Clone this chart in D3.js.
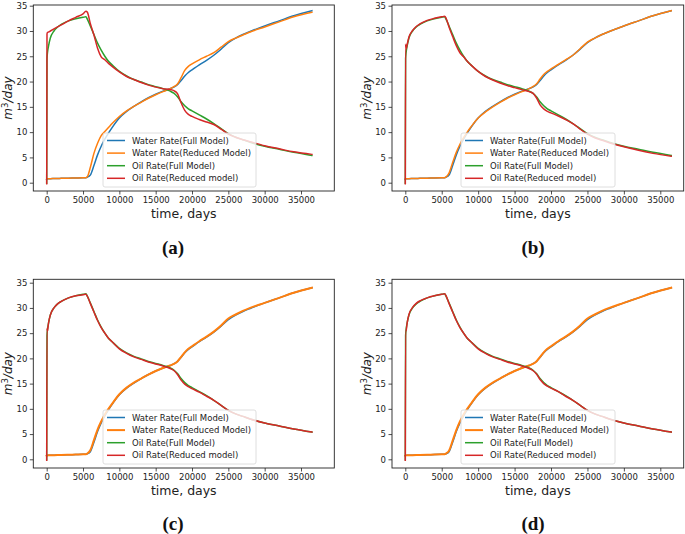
<!DOCTYPE html>
<html><head><meta charset="utf-8">
<script src="https://cdn.jsdelivr.net/npm/d3@7"></script>
<style>body{margin:0;background:#fff}svg{display:block}</style>
</head><body>
<svg id="c" width="685" height="534"></svg>
<script>
// ---------------- data ----------------
const days = [0,40,100,250,500,1000,1500,2000,3000,4000,5000,5400,5600,6000,6500,7000,7500,8000,8500,9000,10000,11000,12000,13000,14000,15000,16000,17000,17500,18000,18500,19000,19500,20000,21000,22000,23000,24000,25000,26000,27000,28000,30000,32000,34000,36500];
const waterFull = [0.7,0.75,0.78,0.8,0.8,0.82,0.84,0.86,0.9,0.94,0.98,1.0,1.1,1.5,3.4,5.5,7.2,8.6,9.8,10.9,12.8,14.1,15.1,16.0,16.8,17.5,18.1,18.6,18.9,19.4,20.2,21.1,21.8,22.3,23.3,24.2,25.2,26.4,27.7,28.6,29.3,29.9,31.0,32.0,33.0,34.0];
const oilFull = [-0.1,24.5,25.6,27.0,28.6,30.0,30.8,31.3,32.0,32.4,32.7,32.8,32.3,31.0,29.3,27.6,26.2,25.0,24.0,23.3,22.0,21.1,20.4,19.9,19.4,19.0,18.6,18.1,17.7,17.0,16.0,15.2,14.6,14.2,13.4,12.6,11.7,10.7,9.7,9.0,8.5,8.0,7.2,6.6,6.0,5.4];
const waterReducedA = [0.7,0.75,0.78,0.8,0.8,0.82,0.84,0.86,0.9,0.94,0.98,1.0,1.2,3.0,5.8,7.8,9.3,10.1,10.9,11.7,13.1,14.2,15.1,15.9,16.7,17.4,18.0,18.6,19.0,19.5,20.8,22.2,23.0,23.5,24.3,25.0,25.7,26.8,27.9,28.6,29.2,29.8,30.8,31.8,32.8,33.7];
const oilReducedA = [-0.2,29.4,29.7,29.8,30.0,30.4,30.8,31.2,32.0,32.7,33.4,33.9,33.7,31.5,29.2,26.6,24.9,24.3,23.6,23.0,21.9,21.0,20.4,19.8,19.3,18.9,18.6,18.4,18.2,17.6,15.8,14.3,13.5,13.1,12.5,12.0,11.5,10.6,9.6,9.0,8.5,8.1,7.3,6.7,6.1,5.6];
const waterReducedB = [0.7,0.75,0.78,0.8,0.8,0.82,0.84,0.86,0.9,0.94,0.98,1.0,1.15,1.9,4.0,6.0,7.6,8.9,10.0,11.0,12.8,14.0,15.0,15.9,16.7,17.4,18.0,18.6,19.0,19.5,20.5,21.4,22.0,22.5,23.4,24.3,25.2,26.5,27.8,28.6,29.3,29.9,31.0,32.0,33.0,34.0];
const oilReducedB = [-0.2,27.4,26.4,27.3,28.8,30.1,30.9,31.4,32.1,32.5,32.8,32.9,32.5,30.8,28.9,27.1,25.7,24.9,24.0,23.3,22.0,21.0,20.3,19.7,19.2,18.8,18.4,18.0,17.7,16.8,15.4,14.6,14.1,13.8,13.2,12.5,11.7,10.6,9.6,8.9,8.4,7.9,7.1,6.4,5.8,5.25];
const waterReducedC = [0.7,0.75,0.78,0.8,0.8,0.82,0.84,0.86,0.9,0.94,0.98,1.0,1.15,1.8,3.8,5.9,7.5,8.9,10.0,11.0,12.9,14.2,15.2,16.0,16.8,17.5,18.1,18.6,18.9,19.4,20.3,21.2,21.9,22.4,23.4,24.3,25.3,26.5,27.9,28.7,29.4,30.0,31.0,32.0,33.0,34.0];
const oilReducedC = [-0.2,26.0,25.4,27.0,28.6,30.0,30.8,31.3,32.0,32.4,32.6,32.7,32.3,30.9,29.2,27.5,26.1,25.0,24.0,23.3,21.9,21.0,20.3,19.8,19.3,18.9,18.5,18.0,17.6,16.8,15.7,14.9,14.4,14.0,13.3,12.5,11.7,10.7,9.7,9.0,8.5,8.0,7.2,6.6,6.0,5.4];
const waterReducedD = [0.7,0.75,0.78,0.8,0.8,0.82,0.84,0.86,0.9,0.94,0.98,1.0,1.15,1.7,3.7,5.8,7.5,8.9,10.0,11.0,12.9,14.2,15.2,16.0,16.8,17.5,18.1,18.6,18.9,19.4,20.3,21.2,21.9,22.4,23.4,24.3,25.3,26.5,27.9,28.7,29.4,30.0,31.0,32.0,33.0,34.0];
const oilReducedD = [-0.2,25.5,25.4,27.0,28.7,30.1,30.9,31.4,32.0,32.4,32.7,32.8,32.4,30.9,29.2,27.5,26.1,25.0,24.0,23.3,21.9,21.0,20.3,19.8,19.3,18.9,18.5,18.0,17.6,16.9,15.8,15.0,14.5,14.1,13.4,12.5,11.7,10.7,9.7,9.0,8.5,8.0,7.2,6.6,6.0,5.4];
const seriesNames = ["Water Rate(Full Model)","Water Rate(Reduced Model)","Oil Rate(Full Model)","Oil Rate(Reduced model)"];
const panelLabels = ["(a)","(b)","(c)","(d)"];
const xTicks = [0,5000,10000,15000,20000,25000,30000,35000];
const yTicks = [0,5,10,15,20,25,30,35];
const xLabel = "time, days";

// ---------------- layout ----------------
const colors = ["#1f77b4","#ff7f0e","#2ca02c","#d62728"];
const panelData = [
  [waterFull, waterReducedA, oilFull, oilReducedA],
  [waterFull, waterReducedB, oilFull, oilReducedB],
  [waterFull, waterReducedC, oilFull, oilReducedC],
  [waterFull, waterReducedD, oilFull, oilReducedD]
];
const layouts = [
  {left:33.3, right:334.3, top:5, bottom:191, px0:46.7, px35:301, py0:182.7, py35:5.7, lx:103, ly:133, lw:153, lh:54, labX:173, labY:254, thick:false},
  {left:392, right:683.7, top:5, bottom:191, px0:405.3, px35:660.3, py0:182.7, py35:5.7, lx:461, ly:133, lw:154, lh:54, labX:533, labY:254, thick:false},
  {left:33.3, right:334.3, top:279.3, bottom:468, px0:46.7, px35:301, py0:459.3, py35:282.7, lx:103, ly:410, lw:153, lh:54, labX:173, labY:530, thick:true},
  {left:392, right:683.7, top:279.3, bottom:468, px0:405.3, px35:660.3, py0:459.3, py35:282.7, lx:461, ly:410, lw:154, lh:54, labX:533, labY:530, thick:true}
];

const svg = d3.select("#c");
const font = "DejaVu Sans, sans-serif";

layouts.forEach((L, i) => {
  const ppd = (L.px35 - L.px0) / 35000;
  const ppu = (L.py0 - L.py35) / 35;
  const x = d3.scaleLinear()
    .domain([(L.left - L.px0) / ppd, (L.right - L.px0) / ppd])
    .range([L.left, L.right]);
  const y = d3.scaleLinear()
    .domain([(L.py0 - L.bottom) / ppu, (L.py0 - L.top) / ppu])
    .range([L.bottom, L.top]);

  const g = svg.append("g");
  const clipId = "clip" + i;
  g.append("clipPath").attr("id", clipId).append("rect")
    .attr("x", L.left).attr("y", L.top).attr("width", L.right - L.left).attr("height", L.bottom - L.top);

  const line = d3.line().x((d, k) => x(days[k])).y(d => y(d)).curve(d3.curveMonotoneX);
  const lines = g.append("g").attr("clip-path", `url(#${clipId})`);
  panelData[i].forEach((s, j) => {
    lines.append("path").attr("d", line(s)).attr("fill", "none")
      .attr("stroke", colors[j])
      .attr("stroke-width", (L.thick && j === 1) ? 2.0 : 1.5)
      .attr("stroke-linejoin", "round").attr("stroke-linecap", "square");
  });

  // axes
  const xAxis = d3.axisBottom(x).tickValues(xTicks).tickSize(3.5).tickPadding(2.5).tickFormat(d3.format("d"));
  const yAxis = d3.axisLeft(y).tickValues(yTicks).tickSize(3.5).tickPadding(2.5).tickFormat(d3.format("d"));
  const gx = g.append("g").attr("transform", `translate(0,${L.bottom})`).call(xAxis);
  const gy = g.append("g").attr("transform", `translate(${L.left},0)`).call(yAxis);
  [gx, gy].forEach(a => {
    a.select(".domain").remove();
    a.selectAll(".tick line").attr("stroke", "#222").attr("stroke-width", 0.8);
    a.selectAll(".tick text").attr("fill", "#222").style("font-family", font).style("font-size", "8.5px");
  });
  g.append("rect").attr("x", L.left).attr("y", L.top).attr("width", L.right - L.left).attr("height", L.bottom - L.top)
    .attr("fill", "none").attr("stroke", "#222").attr("stroke-width", 0.9);

  // axis labels
  g.append("text").attr("x", (L.left + L.right) / 2).attr("y", L.bottom + 27)
    .attr("text-anchor", "middle").style("font-family", font).style("font-size", "12.5px").attr("fill", "#222")
    .text(xLabel);
  const yl = g.append("text")
    .attr("transform", `translate(${L.left - 21},${(L.top + L.bottom) / 2}) rotate(-90)`)
    .attr("text-anchor", "middle").style("font-family", font).style("font-size", "12px").attr("fill", "#222");
  yl.append("tspan").style("font-style", "italic").text("m");
  yl.append("tspan").attr("dy", -4.5).style("font-size", "8.5px").text("3");
  yl.append("tspan").attr("dy", 4.5).style("font-style", "italic").text("/day");

  // legend
  const lg = g.append("g");
  lg.append("rect").attr("x", L.lx).attr("y", L.ly).attr("width", L.lw).attr("height", L.lh).attr("rx", 2)
    .attr("fill", "#fff").attr("fill-opacity", 0.8).attr("stroke", "#d5d5d5").attr("stroke-width", 0.8);
  seriesNames.forEach((n, j) => {
    const yy = L.ly + 7.5 + j * 12.6;
    lg.append("line").attr("x1", L.lx + 4).attr("x2", L.lx + 22).attr("y1", yy).attr("y2", yy)
      .attr("stroke", colors[j]).attr("stroke-width", (L.thick && j === 1) ? 2.0 : 1.5);
    lg.append("text").attr("x", L.lx + 29).attr("y", yy + 3).style("font-family", font).style("font-size", "8.5px")
      .attr("fill", "#222").text(n);
  });

  // panel label
  g.append("text").attr("x", L.labX).attr("y", L.labY).attr("text-anchor", "middle")
    .style("font-family", "Liberation Serif, Times New Roman, serif").style("font-weight", "bold").style("font-size", "19px")
    .attr("fill", "#111").text(panelLabels[i]);
});
</script>
</body></html>
